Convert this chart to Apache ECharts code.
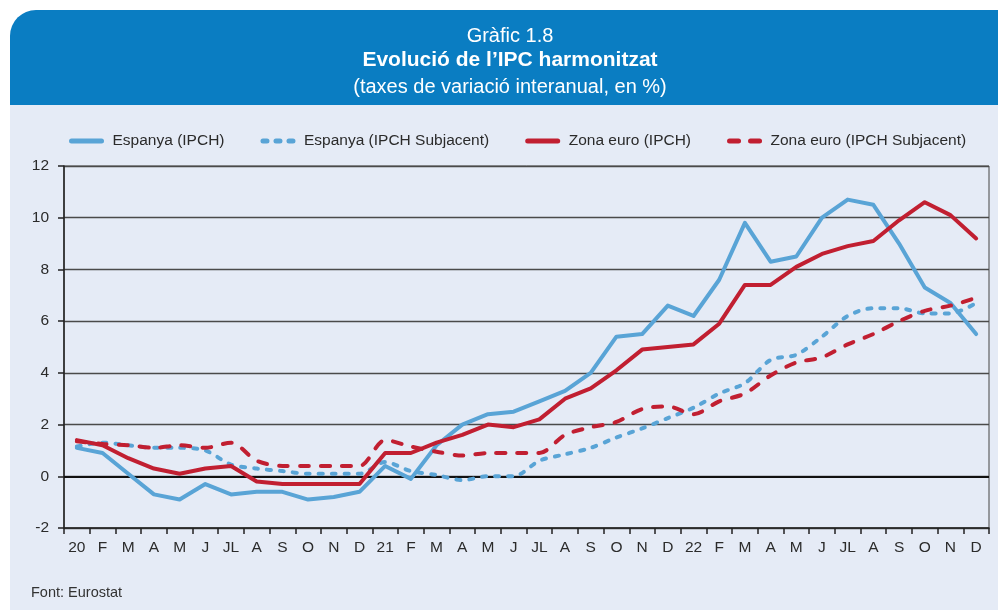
<!DOCTYPE html>
<html>
<head>
<meta charset="utf-8">
<script src="https://cdn.jsdelivr.net/npm/echarts@6/dist/echarts.min.js"></script>
<style>
  html, body { margin: 0; padding: 0; background: #fff; }
  #chart { width: 998px; height: 610px; }
</style>
</head>
<body>
<div id="chart"></div>
<script>
const months = ["20", "F", "M", "A", "M", "J", "JL", "A", "S", "O", "N", "D",
  "21", "F", "M", "A", "M", "J", "JL", "A", "S", "O", "N", "D",
  "22", "F", "M", "A", "M", "J", "JL", "A", "S", "O", "N", "D"];

const espanyaIPCH = [1.1, 0.9, 0.1, -0.7, -0.9, -0.3, -0.7, -0.6, -0.6, -0.9, -0.8, -0.6,
  0.4, -0.1, 1.2, 2.0, 2.4, 2.5, 2.9, 3.3, 4.0, 5.4, 5.5, 6.6,
  6.2, 7.6, 9.8, 8.3, 8.5, 10.0, 10.7, 10.5, 9.0, 7.3, 6.7, 5.5];

const espanyaSubj = [1.15, 1.3, 1.2, 1.1, 1.1, 1.0, 0.45, 0.3, 0.2, 0.1, 0.1, 0.1,
  0.55, 0.2, 0.05, -0.15, 0.0, 0.0, 0.6, 0.85, 1.1, 1.5, 1.85, 2.25,
  2.65, 3.2, 3.6, 4.5, 4.7, 5.4, 6.2, 6.5, 6.5, 6.3, 6.3, 6.7];

const zonaIPCH = [1.4, 1.2, 0.7, 0.3, 0.1, 0.3, 0.4, -0.2, -0.3, -0.3, -0.3, -0.3,
  0.9, 0.9, 1.3, 1.6, 2.0, 1.9, 2.2, 3.0, 3.4, 4.1, 4.9, 5.0,
  5.1, 5.9, 7.4, 7.4, 8.1, 8.6, 8.9, 9.1, 9.9, 10.6, 10.1, 9.2];

const zonaSubj = [1.35, 1.25, 1.2, 1.1, 1.2, 1.1, 1.3, 0.6, 0.4, 0.4, 0.4, 0.4,
  1.4, 1.15, 0.95, 0.8, 0.9, 0.9, 0.9, 1.6, 1.9, 2.1, 2.6, 2.7,
  2.4, 2.9, 3.2, 3.9, 4.4, 4.6, 5.1, 5.5, 6.0, 6.4, 6.6, 6.9];

const seriesNames = ["Espanya (IPCH)", "Espanya (IPCH Subjacent)", "Zona euro (IPCH)", "Zona euro (IPCH Subjacent)"];

const BLUE = "#59a4d6";
const RED = "#c11f31";
const sans = "'Liberation Sans', Arial, sans-serif";

function lineSeries(name, data, color, dash, smooth) {
  return {
    name: name,
    type: "line",
    data: data,
    symbol: "none",
    smooth: smooth,
    lineStyle: { color: color, width: 4, type: dash, cap: "round", join: "round" },
    itemStyle: { color: color },
  };
}

const chart = echarts.init(document.getElementById("chart"));

const series = [
  lineSeries(seriesNames[0], espanyaIPCH, BLUE, "solid", false),
  lineSeries(seriesNames[1], espanyaSubj, BLUE, [4, 9], 0.3),
  lineSeries(seriesNames[2], zonaIPCH, RED, "solid", false),
  lineSeries(seriesNames[3], zonaSubj, RED, [9, 12], 0.3),
];
// black zero line, kept under the curves
series[0].markLine = {
  silent: true,
  symbol: "none",
  z: 1,
  label: { show: false },
  lineStyle: { color: "#111", width: 2, type: "solid" },
  data: [{ yAxis: 0 }],
};

chart.setOption({
  animation: false,
  backgroundColor: "#fff",
  graphic: [
    { type: "rect", z: -10, silent: true,
      shape: { x: 10, y: 105, width: 988, height: 505 },
      style: { fill: "#e5ebf6" } },
    { type: "rect", z: -9, silent: true,
      shape: { x: 10, y: 10, width: 988, height: 95, r: [26, 0, 0, 0] },
      style: { fill: "#0a7dc2" } },
    { type: "text", x: 510, y: 36, z: 5,
      style: { text: "Gràfic 1.8", fill: "#fff", font: "20px " + sans, align: "center", verticalAlign: "middle" } },
    { type: "text", x: 510, y: 60, z: 5,
      style: { text: "Evolució de l\u2019IPC harmonitzat", fill: "#fff", font: "bold 21px " + sans, align: "center", verticalAlign: "middle" } },
    { type: "text", x: 510, y: 87, z: 5,
      style: { text: "(taxes de variació interanual, en %)", fill: "#fff", font: "20px " + sans, align: "center", verticalAlign: "middle" } },
    { type: "text", x: 31, y: 593, z: 5,
      style: { text: "Font: Eurostat", fill: "#333", font: "14.5px " + sans, align: "left", verticalAlign: "middle" } },
  ],
  legend: {
    left: 69,
    top: 133,
    padding: 0,
    width: 929,
    itemWidth: 30,
    itemHeight: 18,
    itemGap: 36,
    data: seriesNames,
    itemStyle: { opacity: 0 },
    lineStyle: { width: 5, cap: "round" },
    textStyle: { fontFamily: sans, fontSize: 15.5, color: "#2b2b2b", padding: [0, 0, 0, 6] },
  },
  grid: {
    left: 64,
    right: 9,
    top: 166,
    bottom: 82,
    show: true,
    borderColor: "#444",
    borderWidth: 1,
    backgroundColor: "transparent",
  },
  xAxis: {
    type: "category",
    data: months,
    boundaryGap: true,
    axisLine: { onZero: false, lineStyle: { color: "#222", width: 1.5 } },
    axisTick: { show: true, length: 6, lineStyle: { color: "#222", width: 1.5 } },
    axisLabel: { interval: 0, margin: 12, fontFamily: sans, fontSize: 15.5, color: "#2b2b2b" },
    splitLine: { show: false },
  },
  yAxis: {
    type: "value",
    min: -2,
    max: 12,
    interval: 2,
    axisLine: { show: true, lineStyle: { color: "#222", width: 1.5 } },
    axisTick: { show: true, length: 6, lineStyle: { color: "#222", width: 1.5 } },
    axisLabel: { margin: 15, fontFamily: sans, fontSize: 15.5, color: "#2b2b2b" },
    splitLine: { show: true, lineStyle: { color: "#4a4a4a", width: 1.3 } },
  },
  series: series,
});
</script>
</body>
</html>
